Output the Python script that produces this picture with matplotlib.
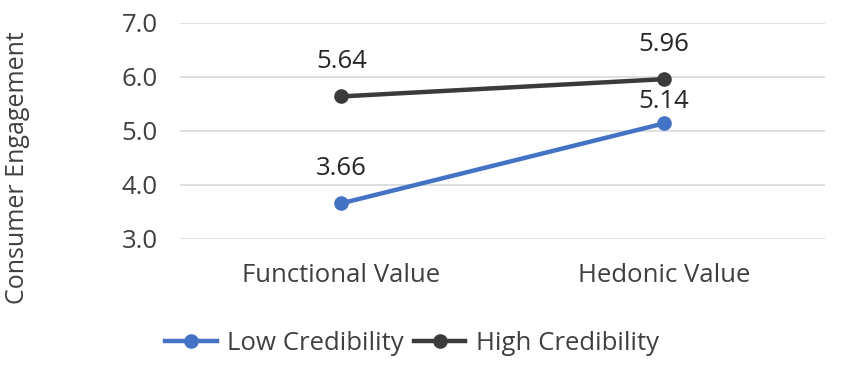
import matplotlib
matplotlib.use("Agg")
import matplotlib.pyplot as plt

categories = ["Functional Value", "Hedonic Value"]
low_cred = [3.66, 5.14]
high_cred = [5.64, 5.96]
series_names = ["Low Credibility", "High Credibility"]
y_ticks = [3.0, 4.0, 5.0, 6.0, 7.0]

plt.rcParams['font.family'] = ['Open Sans', 'DejaVu Sans']
text_color = "#404040"
fs = 18.5

fig = plt.figure(figsize=(8.5, 3.67), dpi=100)
ax = fig.add_axes([180/850, 1-239/367, 645/850, 216/367])

x = list(range(len(categories)))
blue = "#4472C4"
dark = "#3B3B3B"
ax.plot(x, low_cred, color=blue, lw=3.2, marker='o', ms=9.5, label=series_names[0], zorder=3)
ax.plot(x, high_cred, color=dark, lw=3.2, marker='o', ms=9.5, label=series_names[1], zorder=3)

offsets_low = [25, 16]
offsets_high = [25, 25]
for xi, v, off in zip(x, low_cred, offsets_low):
    ax.annotate(f"{v:.2f}", (xi, v), xytext=(0, off), textcoords='offset points',
                ha='center', va='center', fontsize=fs, color="#262626")
for xi, v, off in zip(x, high_cred, offsets_high):
    ax.annotate(f"{v:.2f}", (xi, v), xytext=(0, off), textcoords='offset points',
                ha='center', va='center', fontsize=fs, color="#262626")

ax.set_xlim(-0.5, 1.5)
ax.set_ylim(3.0, 7.0)
ax.set_yticks(y_ticks)
ax.set_yticklabels([f"{t:.1f}" for t in y_ticks])
ax.set_xticks(x)
ax.set_xticklabels(categories)
ax.tick_params(axis='both', length=0, labelsize=fs, colors=text_color)
ax.tick_params(axis='y', pad=16)
ax.tick_params(axis='x', pad=17)
ax.yaxis.grid(True, color="#D9D9D9", lw=1.2)
ax.set_axisbelow(True)
for s in ax.spines.values():
    s.set_visible(False)

fig.text(18/850, 1-168/367, "Consumer Engagement", rotation=90, ha='center', va='center',
         fontsize=18, color=text_color)

fig.legend(loc='center', bbox_to_anchor=(412/850, 1-343/367), ncol=2, frameon=False,
           fontsize=fs, handlelength=2.0, handletextpad=0.4, columnspacing=0.4,
           labelcolor=text_color)

fig.savefig("out.png", dpi=100)
